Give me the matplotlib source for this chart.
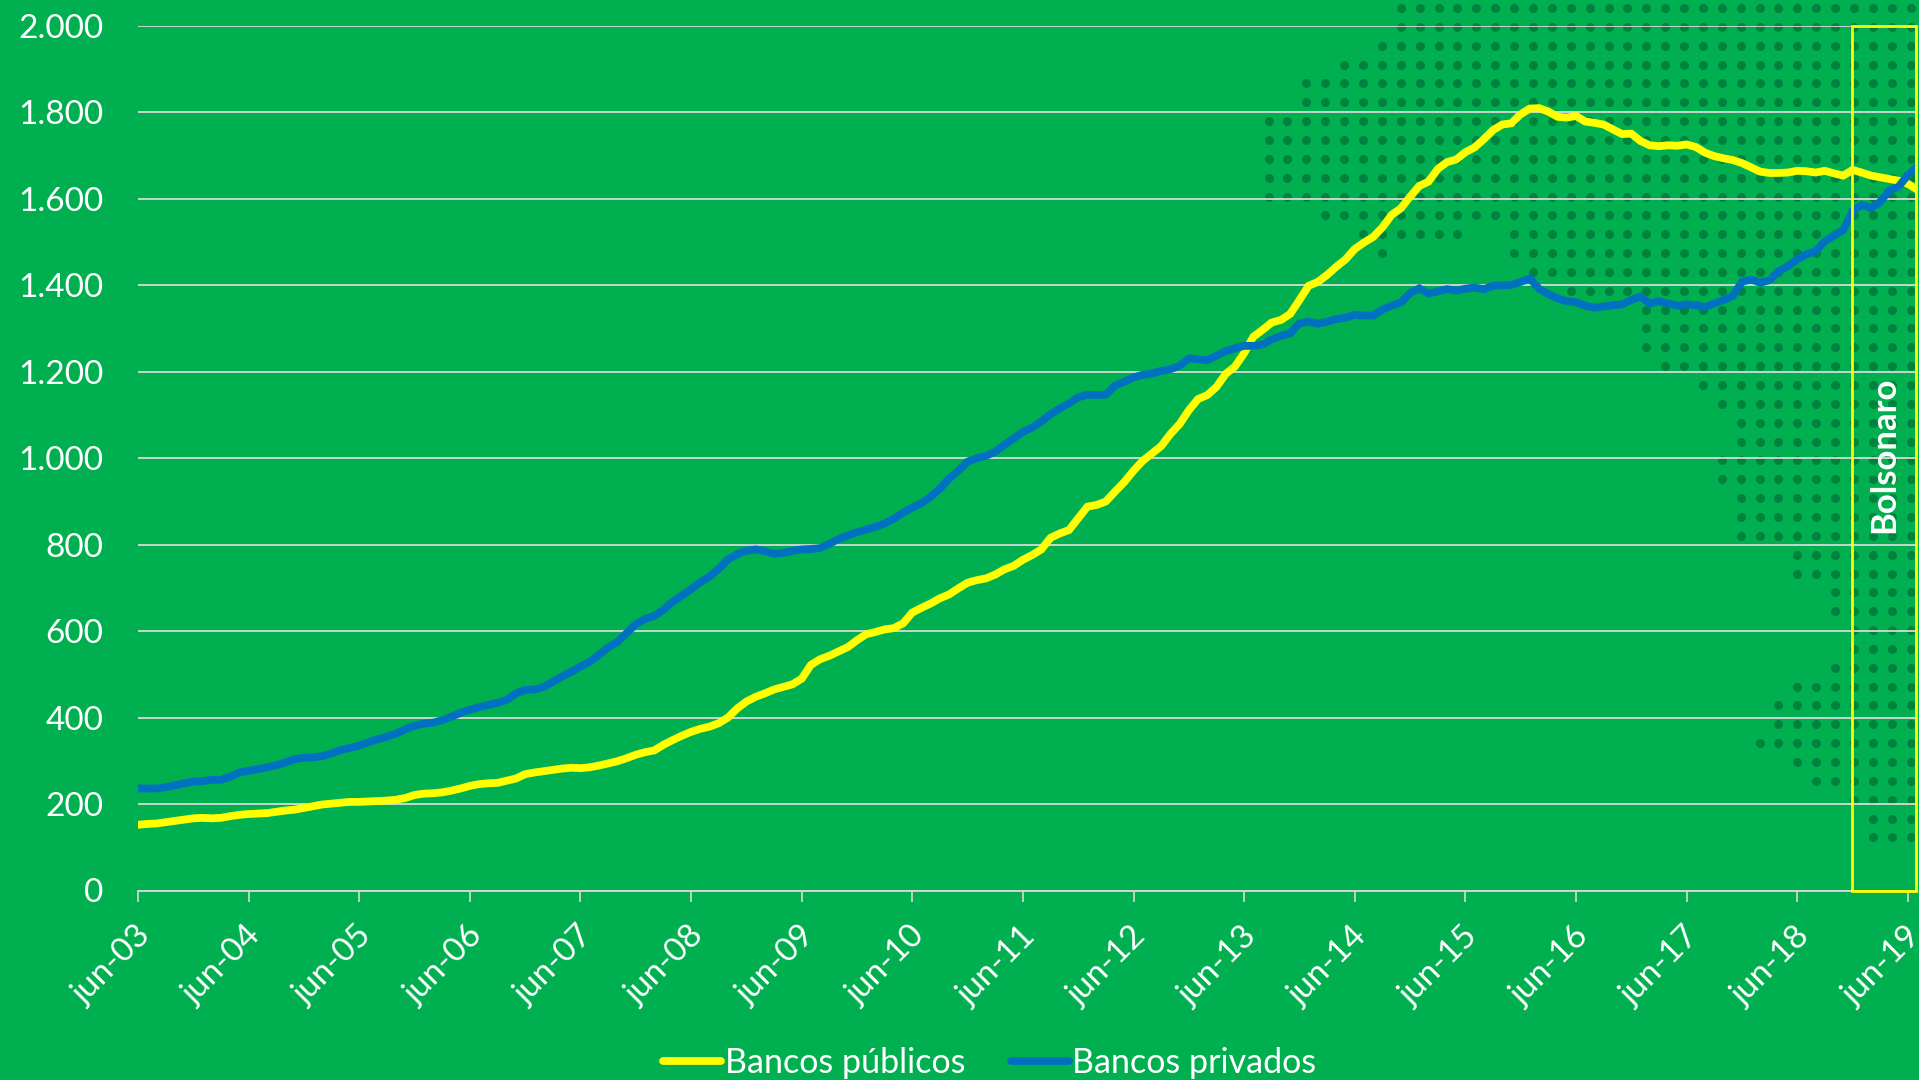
import numpy as np
import matplotlib
matplotlib.use("Agg")
import matplotlib.pyplot as plt
from matplotlib.patches import Rectangle
from matplotlib.transforms import ScaledTranslation

# monthly values, jun-03 onwards
bancos_publicos = [
    152, 154, 155, 158, 161, 164, 167, 168, 167, 168,
    172, 175, 177, 178, 179, 182, 185, 187, 191, 195,
    199, 201, 203, 205, 205, 206, 207, 208, 210, 214,
    221, 224, 225, 227, 231, 236, 242, 246, 248, 249,
    254, 259, 269, 273, 276, 279, 282, 284, 283, 285,
    289, 294, 299, 306, 314, 320, 324, 337, 348, 358,
    367, 374, 379, 387, 400, 421, 437, 448, 456, 465,
    471, 477, 490, 522, 535, 543, 553, 563, 579, 593,
    598, 604, 607, 618, 643, 654, 664, 676, 685, 699,
    712, 718, 722, 731, 743, 751, 765, 776, 789, 816,
    826, 834, 861, 888, 892, 900, 923, 945, 971, 994,
    1011, 1028, 1056, 1079, 1111, 1137, 1146, 1165, 1195, 1212,
    1243, 1281, 1297, 1314, 1320, 1334, 1366, 1399, 1408, 1424,
    1443, 1460, 1484, 1499, 1512, 1534, 1563, 1578, 1605, 1630,
    1640, 1669, 1685, 1691, 1708, 1719, 1738, 1759, 1772, 1775,
    1796, 1809, 1810, 1802, 1790, 1788, 1792, 1779, 1776, 1772,
    1761, 1750, 1751, 1734, 1724, 1722, 1724, 1723, 1726, 1720,
    1707, 1699, 1694, 1690, 1683, 1673, 1663, 1660, 1660, 1661,
    1665, 1664, 1661, 1665, 1659, 1654, 1667, 1661, 1654, 1650,
    1646, 1642, 1635, 1622,
]
bancos_privados = [
    236, 236, 236, 239, 243, 248, 252, 253, 256, 256,
    263, 273, 277, 281, 285, 290, 296, 304, 307, 308,
    311, 317, 325, 330, 335, 343, 350, 356, 363, 373,
    381, 386, 388, 394, 402, 411, 418, 424, 429, 434,
    441, 456, 464, 465, 471, 483, 495, 506, 518, 529,
    545, 562, 575, 595, 616, 628, 635, 649, 668, 682,
    697, 713, 726, 744, 766, 778, 786, 789, 785, 779,
    781, 786, 789, 790, 792, 802, 813, 821, 829, 835,
    841, 849, 860, 874, 886, 896, 911, 930, 953, 971,
    992, 1000, 1006, 1015, 1031, 1046, 1061, 1071, 1085, 1102,
    1115, 1127, 1141, 1147, 1146, 1147, 1168, 1177, 1187, 1193,
    1196, 1202, 1206, 1214, 1231, 1229, 1227, 1237, 1248, 1254,
    1260, 1260, 1263, 1275, 1283, 1289, 1312, 1316, 1311, 1316,
    1322, 1325, 1332, 1330, 1330, 1344, 1353, 1360, 1382, 1393,
    1381, 1386, 1391, 1388, 1392, 1395, 1391, 1399, 1400, 1401,
    1408, 1416, 1392, 1380, 1370, 1363, 1361, 1353, 1348, 1351,
    1354, 1356, 1366, 1374, 1358, 1363, 1358, 1353, 1356, 1354,
    1350, 1358, 1366, 1375, 1408, 1414, 1406, 1412, 1433, 1444,
    1460, 1472, 1479, 1502, 1515, 1528, 1572, 1586, 1579, 1593,
    1620, 1628, 1655, 1674,
]
x_labels = ["jun-03", "jun-04", "jun-05", "jun-06", "jun-07", "jun-08", "jun-09", "jun-10", "jun-11",
            "jun-12", "jun-13", "jun-14", "jun-15", "jun-16", "jun-17", "jun-18", "jun-19"]
y_values = [0, 200, 400, 600, 800, 1000, 1200, 1400, 1600, 1800, 2000]
y_labels = ["0", "200", "400", "600", "800", "1.000", "1.200", "1.400", "1.600", "1.800", "2.000"]

# dotted map in the background: first and last column of each row of dots
dot_runs = [
    [(7, 34)], [(7, 34)], [(6, 34)], [(4, 34)], [(2, 34)], [(2, 34)], [(0, 34)], [(0, 34)], [(0, 34)],
    [(0, 34)], [(0, 34)], [(3, 34)], [(5, 10), (13, 34)], [(6, 6), (13, 34)], [(14, 34)], [(16, 34)],
    [(20, 34)], [(20, 34)], [(20, 34)], [(21, 34)], [(23, 34)], [(24, 34)], [(25, 34)], [(25, 34)],
    [(24, 34)], [(24, 34)], [(25, 34)], [(25, 34)], [(25, 34)], [(28, 34)], [(28, 34)], [(30, 34)],
    [(30, 34)], [(31, 34)], [(31, 34)], [(30, 34)], [(28, 34)], [(27, 34)], [(27, 34)], [(26, 34)],
    [(28, 34)], [(29, 34)], [(31, 34)], [(32, 34)], [(32, 34)],
]

GREEN = "#00B050"
GRID = "#D9D9D9"
W, H = 1919, 1080

plt.rcParams["font.family"] = "Lato"

fig = plt.figure(figsize=(W / 100, H / 100), dpi=100, facecolor=GREEN)

# pixel axes behind the chart for the dots
bg = fig.add_axes([0, 0, 1, 1], zorder=0)
bg.set_xlim(0, W)
bg.set_ylim(H, 0)
bg.axis("off")
dot_x, dot_y = [], []
for i, runs in enumerate(dot_runs):
    for a, b in runs:
        for j in range(a, b + 1):
            dot_x.append(1268.6 + 18.885 * j)
            dot_y.append(8 + 18.85 * i)
bg.scatter(dot_x, dot_y, s=42, color="#00823F", linewidths=0)

ax = fig.add_axes([138 / W, 1 - 890.5 / H, (1917 - 138) / W, (890.5 - 26) / H], zorder=1)
ax.patch.set_alpha(0)

months = np.arange(len(bancos_publicos))
ax.plot(months, bancos_publicos, color="#FFFF00", lw=5.6, solid_joinstyle="miter", label="Bancos públicos", zorder=3)
ax.plot(months, bancos_privados, color="#0070C0", lw=5.6, solid_joinstyle="miter", label="Bancos privados", zorder=4)

ax.set_xlim(0, 193)
ax.set_ylim(0, 2000)
ax.set_yticks(y_values)
ax.set_yticklabels(y_labels)
ax.set_xticks(np.arange(len(x_labels)) * 12)
ax.set_xticklabels(x_labels, rotation=45, ha="right", rotation_mode="anchor")
ax.tick_params(axis="y", length=0, pad=25, labelsize=24, labelcolor="white")
ax.tick_params(axis="x", length=8, width=1.2, color=GRID, pad=14, labelsize=24, labelcolor="white")
# small nudge to sit the rotated labels where the reference has them
nudge = ScaledTranslation(-3 / 100, 0, fig.dpi_scale_trans)
for lab in ax.get_xticklabels():
    lab.set_transform(lab.get_transform() + nudge)
ax.grid(axis="y", color=GRID, lw=1.3, zorder=1)
ax.set_axisbelow(True)
for s in ["top", "right", "left"]:
    ax.spines[s].set_visible(False)
ax.spines["bottom"].set_color(GRID)
ax.spines["bottom"].set_linewidth(1.3)

# Bolsonaro period
ax.add_patch(Rectangle((185.9, 0), 7, 2000, fill=False, ec="#FFFF00", lw=2, zorder=5, clip_on=False))
ax.text(189.5, 1008, "Bolsonaro", rotation=90, color="white", fontsize=25, fontweight="bold",
        ha="center", va="center", zorder=6)

leg = ax.legend(loc="center", bbox_to_anchor=(990 / W, 1 - 1063 / H), bbox_transform=fig.transFigure,
                ncol=2, frameon=False, fontsize=24.5, handlelength=1.7, handletextpad=0.1,
                columnspacing=1.35, labelcolor="white")
for h in leg.get_lines():
    h.set_solid_capstyle("round")

fig.savefig("out.png", dpi=100, facecolor=GREEN)
